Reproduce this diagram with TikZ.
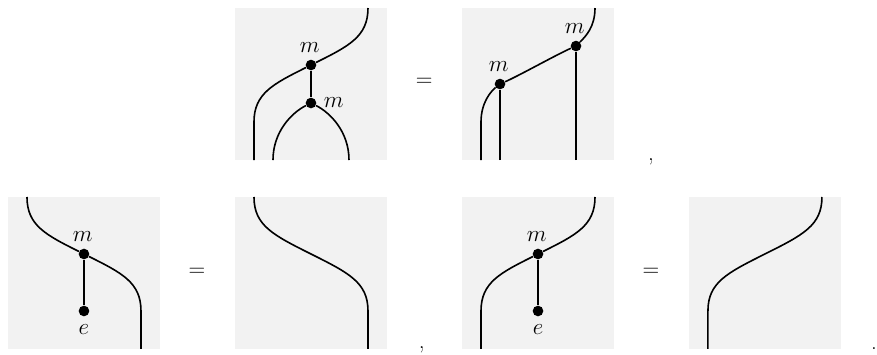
\documentclass[tikz,border=0pt]{standalone}
\usepackage{amsmath,amssymb}
\usepackage{xcolor}
\usepackage{tikz}
\begin{document}
\begin{tikzpicture}[
  font=\LARGE,
  panel/.style={fill=black!5, inner sep=0pt, minimum size=4cm, anchor=south west},
  dot/.style={circle, fill=black, inner sep=0pt, minimum size=2.8mm},
  strand/.style={very thick},
  lbl/.style={inner sep=0pt},
]
\useasboundingbox (0,0) rectangle (23.079,9.316);
% ---------------- associativity ----------------
\begin{scope}[shift={(6.184,5.105)}]
\node[panel] (p1) at (0,0) {};
\coordinate (a1) at (0.5,0);
\coordinate (b1) at (1,0);
\coordinate (c1) at (3,0);
\coordinate (t1) at (3.5,4);
\node[dot] (m1) at (2,2.5) {};
\node[dot] (m2) at (2,1.5) {};
\node[lbl] (lm1) at (1.97,2.97) {$m$};
\node[lbl] (lm2) at (2.6,1.5) {$m$};
\draw[strand] (a1) -- (0.5,1) .. controls (0.5,1.75) and (1,2) .. (m1) .. controls (3,3) and (3.5,3.25) .. (t1);
\draw[strand] (m1) -- (m2);
\draw[strand] (b1) .. controls (1,0.75) and (1.5,1.25) .. (m2);
\draw[strand] (c1) .. controls (3,0.75) and (2.5,1.25) .. (m2);
\end{scope}
\node (eq1) at (11.16,7.16) {$=$};
\begin{scope}[shift={(12.158,5.105)}]
\node[panel] (p2) at (0,0) {};
\coordinate (a2) at (0.5,0);
\coordinate (b2) at (1,0);
\coordinate (c2) at (3,0);
\coordinate (t2) at (3.5,4);
\node[dot] (m3) at (1,2) {};
\node[dot] (m4) at (3,3) {};
\node[lbl] (lm3) at (0.97,2.47) {$m$};
\node[lbl] (lm4) at (2.97,3.47) {$m$};
\draw[strand] (a2) -- (0.5,1) .. controls (0.5,1.5) and (0.75,1.8) .. (m3) .. controls (1.5,2.22) and (2.5,2.78) .. (m4) .. controls (3.25,3.25) and (3.5,3.5) .. (t2);
\draw[strand] (b2) -- (m3);
\draw[strand] (c2) -- (m4);
\end{scope}
\node (cm1) at (17.13,5.05) {,};
% ---------------- right unit ----------------
\begin{scope}[shift={(0.21,0.132)}]
\node[panel] (p3) at (0,0) {};
\coordinate (t3) at (0.5,4);
\coordinate (a3) at (3.5,0);
\node[dot] (m5) at (2,2.5) {};
\node[dot] (e1) at (2,1) {};
\node[lbl] (lm5) at (1.97,2.97) {$m$};
\node[lbl] (le1) at (2,0.5) {$e$};
\draw[strand] (t3) .. controls (0.5,3.25) and (1,3) .. (m5) .. controls (3,2) and (3.5,1.75) .. (3.5,1) -- (a3);
\draw[strand] (m5) -- (e1);
\end{scope}
\node (eq2) at (5.18,2.16) {$=$};
\begin{scope}[shift={(6.184,0.132)}]
\node[panel] (p4) at (0,0) {};
\coordinate (t4) at (0.5,4);
\coordinate (a4) at (3.5,0);
\draw[strand] (t4) .. controls (0.5,3.25) and (1,3) .. (2,2.5) .. controls (3,2) and (3.5,1.75) .. (3.5,1) -- (a4);
\end{scope}
\node (cm2) at (11.1,0.12) {,};
% ---------------- left unit ----------------
\begin{scope}[shift={(12.158,0.132)}]
\node[panel] (p5) at (0,0) {};
\coordinate (a5) at (0.5,0);
\coordinate (t5) at (3.5,4);
\node[dot] (m6) at (2,2.5) {};
\node[dot] (e2) at (2,1) {};
\node[lbl] (lm6) at (1.97,2.97) {$m$};
\node[lbl] (le2) at (2,0.5) {$e$};
\draw[strand] (a5) -- (0.5,1) .. controls (0.5,1.75) and (1,2) .. (m6) .. controls (3,3) and (3.5,3.25) .. (t5);
\draw[strand] (m6) -- (e2);
\end{scope}
\node (eq3) at (17.13,2.16) {$=$};
\begin{scope}[shift={(18.13,0.132)}]
\node[panel] (p6) at (0,0) {};
\coordinate (a6) at (0.5,0);
\coordinate (t6) at (3.5,4);
\draw[strand] (a6) -- (0.5,1) .. controls (0.5,1.75) and (1,2) .. (2,2.5) .. controls (3,3) and (3.5,3.25) .. (t6);
\end{scope}
\node (dt1) at (23.0,0.145) {.};
\end{tikzpicture}
\end{document}
